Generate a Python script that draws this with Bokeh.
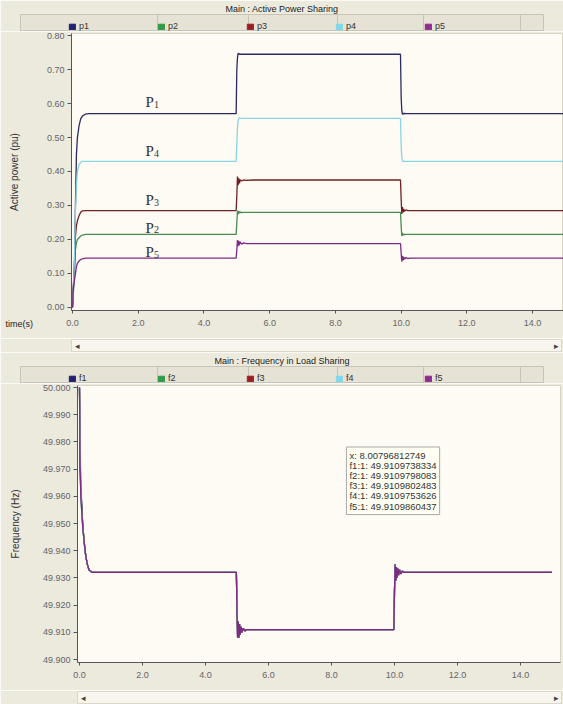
from bokeh.plotting import figure
from bokeh.models import (Range1d, FixedTicker, PrintfTickFormatter, Legend,
                          LegendItem, Title, ColumnDataSource)
from bokeh.layouts import column
from bokeh.core.properties import value
from bokeh.embed import file_html
from bokeh.resources import INLINE

# ---------------- data : active power ----------------
t_p = [0.00, 0.03, 0.06, 0.09, 0.12, 0.15, 0.20, 0.25, 0.30, 0.40, 0.50,
       4.98, 5.00, 5.02, 5.04, 5.06, 5.08, 5.10, 5.15, 5.20, 5.30, 5.50,
       9.98, 10.00, 10.02, 10.04, 10.06, 10.08, 10.10, 10.15, 10.20, 10.30, 10.50,
       15.00]
p1 = [0.00, 0.07, 0.12, 0.30, 0.45, 0.50, 0.535, 0.555, 0.563, 0.569, 0.570,
      0.570, 0.700, 0.735, 0.748, 0.747, 0.745, 0.745, 0.745, 0.745, 0.745, 0.745,
      0.745, 0.620, 0.578, 0.568, 0.572, 0.569, 0.571, 0.570, 0.570, 0.570, 0.570,
      0.570]
p2 = [0.00, 0.05, 0.10, 0.17, 0.19, 0.200, 0.205, 0.210, 0.213, 0.215, 0.215,
      0.215, 0.250, 0.285, 0.275, 0.283, 0.277, 0.281, 0.279, 0.280, 0.280, 0.280,
      0.280, 0.240, 0.210, 0.219, 0.213, 0.216, 0.214, 0.215, 0.215, 0.215, 0.215,
      0.215]
p3 = [0.00, 0.06, 0.13, 0.21, 0.24, 0.255, 0.270, 0.280, 0.284, 0.285, 0.285,
      0.285, 0.330, 0.385, 0.360, 0.380, 0.365, 0.376, 0.372, 0.375, 0.374, 0.375,
      0.375, 0.320, 0.275, 0.295, 0.280, 0.290, 0.283, 0.287, 0.285, 0.285, 0.285,
      0.285]
p4 = [0.00, 0.05, 0.15, 0.28, 0.36, 0.400, 0.420, 0.427, 0.430, 0.430, 0.430,
      0.430, 0.480, 0.530, 0.550, 0.556, 0.558, 0.557, 0.556, 0.556, 0.556, 0.556,
      0.556, 0.480, 0.440, 0.432, 0.429, 0.430, 0.430, 0.430, 0.430, 0.430, 0.430,
      0.430]
p5 = [0.00, 0.06, 0.08, 0.10, 0.12, 0.130, 0.137, 0.141, 0.143, 0.145, 0.145,
      0.145, 0.170, 0.198, 0.180, 0.196, 0.183, 0.193, 0.186, 0.190, 0.188, 0.188,
      0.188, 0.160, 0.135, 0.152, 0.139, 0.149, 0.142, 0.147, 0.144, 0.145, 0.145,
      0.145]
p_names = ["p1", "p2", "p3", "p4", "p5"]

lbl_x = [2.22, 2.22, 2.22, 2.22, 2.22]
lbl_y = [0.603, 0.235, 0.315, 0.459, 0.162]
lbl_main = ["P", "P", "P", "P", "P"]
lbl_sub = ["1", "2", "3", "4", "5"]

# ---------------- data : frequency ----------------
t_f = [0.00, 0.01, 0.02, 0.03, 0.05, 0.08, 0.10, 0.15, 0.20, 0.25, 0.30, 0.40, 0.50,
       4.98, 5.00, 5.02, 5.04, 5.06, 5.08, 5.10, 5.13, 5.16, 5.20, 5.25, 5.30, 5.40,
       9.98, 10.00, 10.02, 10.04, 10.06, 10.08, 10.10, 10.13, 10.16, 10.20, 10.25, 10.30, 10.40,
       15.00]
f1 = [50.000, 49.992, 49.975, 49.970, 49.962, 49.955, 49.950, 49.943, 49.938, 49.935, 49.933, 49.932, 49.932,
      49.932, 49.920, 49.908, 49.914, 49.908, 49.913, 49.909, 49.912, 49.910, 49.9115, 49.9105, 49.911, 49.911,
      49.911, 49.925, 49.935, 49.929, 49.934, 49.930, 49.9335, 49.931, 49.933, 49.9315, 49.9325, 49.932, 49.932,
      49.932]
f2 = [50.000, 49.990, 49.978, 49.968, 49.961, 49.955, 49.950, 49.943, 49.938, 49.935, 49.933, 49.932, 49.932,
      49.932, 49.920, 49.908, 49.914, 49.908, 49.913, 49.909, 49.912, 49.910, 49.9115, 49.9105, 49.911, 49.911,
      49.911, 49.925, 49.935, 49.929, 49.934, 49.930, 49.9335, 49.931, 49.933, 49.9315, 49.9325, 49.932, 49.932,
      49.932]
f3 = [50.000, 49.985, 49.970, 49.966, 49.960, 49.954, 49.950, 49.943, 49.938, 49.935, 49.933, 49.932, 49.932,
      49.932, 49.920, 49.908, 49.914, 49.908, 49.913, 49.909, 49.912, 49.910, 49.9115, 49.9105, 49.911, 49.911,
      49.911, 49.925, 49.935, 49.929, 49.934, 49.930, 49.9335, 49.931, 49.933, 49.9315, 49.9325, 49.932, 49.932,
      49.932]
f4 = [50.000, 49.995, 49.988, 49.975, 49.958, 49.953, 49.949, 49.943, 49.938, 49.935, 49.933, 49.932, 49.932,
      49.932, 49.922, 49.908, 49.914, 49.908, 49.913, 49.909, 49.912, 49.910, 49.9115, 49.9105, 49.911, 49.911,
      49.911, 49.925, 49.935, 49.929, 49.934, 49.930, 49.9335, 49.931, 49.933, 49.9315, 49.9325, 49.932, 49.932,
      49.932]
f5 = [50.000, 49.990, 49.972, 49.965, 49.958, 49.953, 49.949, 49.943, 49.938, 49.935, 49.933, 49.932, 49.932,
      49.932, 49.918, 49.908, 49.914, 49.908, 49.913, 49.909, 49.912, 49.910, 49.9115, 49.9105, 49.911, 49.911,
      49.911, 49.925, 49.935, 49.929, 49.934, 49.930, 49.9335, 49.931, 49.933, 49.9315, 49.9325, 49.932, 49.932,
      49.932]
f_names = ["f1", "f2", "f3", "f4", "f5"]

tip_lines = ["x: 8.00796812749",
             "f1:1: 49.9109738334",
             "f2:1: 49.9109798083",
             "f3:1: 49.9109802483",
             "f4:1: 49.9109753626",
             "f5:1: 49.9109860437"]
tip_x = 8.38
tip_y = 49.9785

x_ticks = [0, 2, 4, 6, 8, 10, 12, 14]
yp_ticks = [0.0, 0.1, 0.2, 0.3, 0.4, 0.5, 0.6, 0.7, 0.8]
yf_ticks = [49.90, 49.91, 49.92, 49.93, 49.94, 49.95, 49.96, 49.97, 49.98, 49.99, 50.00]

line_colors = ["#2a2a62", "#4a8a52", "#6e2026", "#88d3e5", "#7d2a82"]
swatch_colors = ["#1f2270", "#2f9a48", "#9a1f22", "#7fd8ea", "#8e2c8e"]
cell_edges = [157, 248, 337, 423, 520]

UI = "Liberation Sans"
BORDER = "#ECE9DD"
FRAME = "#FDFBF3"
ROW = "#E6E3D6"


def header(title, names):
    h = figure(width=563, height=31, output_backend="svg", toolbar_location=None,
               x_range=Range1d(20, 543), y_range=Range1d(0, 1),
               min_border_left=20, min_border_right=20, min_border_top=0,
               min_border_bottom=0, frame_align=False)
    h.axis.visible = False
    h.grid.visible = False
    h.border_fill_color = BORDER
    h.background_fill_color = ROW
    h.outline_line_color = "#C9C5B6"
    h.title = Title(text=title, align="center", text_font=UI, text_font_size="9px",
                    text_font_style="normal", text_color="#222222", standoff=2)
    h.segment(x0=cell_edges, x1=cell_edges, y0=[0] * len(cell_edges),
              y1=[1] * len(cell_edges), line_color="#C9C5B6", line_width=1)
    items = []
    for nm, c in zip(names, swatch_colors):
        # legend swatch only: its single box lies outside the visible range
        sw = h.quad(left=[-20], right=[-10], top=[-1], bottom=[-2],
                    fill_color=c, line_color=c)
        items.append(LegendItem(label=nm, renderers=[sw]))
    lg = Legend(items=items, orientation="horizontal", location=(48, 0),
                glyph_width=8, glyph_height=7, label_standoff=3, label_width=78,
                label_height=10, spacing=0, padding=2, margin=0,
                label_text_font=UI, label_text_font_size="9px",
                label_text_color="#333333", background_fill_alpha=0,
                border_line_color=None)
    h.add_layout(lg, "center")
    return h


def footer(left):
    f = figure(width=563, height=14, output_backend="svg", toolbar_location=None,
               x_range=Range1d(0, 1), y_range=Range1d(0, 1),
               min_border_left=left, min_border_right=2, min_border_top=1,
               min_border_bottom=1, frame_align=False)
    f.axis.visible = False
    f.grid.visible = False
    f.border_fill_color = BORDER
    f.background_fill_color = "#F7F5EE"
    f.outline_line_color = "#DAD6C8"
    f.text(x=[0, 1], y=[0.5, 0.5], text=["◂", "▸"], text_align=["left", "right"],
           text_baseline="middle", text_font=value(UI), text_font_size="9px",
           text_color="#444444", x_offset=[3, -3])
    return f


def main(xr, yr, left, right, yfmt, yticks, ylabel, ls, ts, series):
    p = figure(width=563, height=307, output_backend="svg", toolbar_location=None,
               x_range=xr, y_range=yr, min_border_left=left, min_border_right=right,
               min_border_top=2, min_border_bottom=28, frame_align=False)
    p.border_fill_color = BORDER
    p.background_fill_color = FRAME
    p.outline_line_color = "#D8D4C6"
    p.grid.visible = False
    p.xaxis.ticker = FixedTicker(ticks=x_ticks)
    p.xaxis.formatter = PrintfTickFormatter(format="%.1f")
    p.yaxis.ticker = FixedTicker(ticks=yticks)
    p.yaxis.formatter = PrintfTickFormatter(format=yfmt)
    for ax in (p.xaxis, p.yaxis):
        ax.major_label_text_font = UI
        ax.major_label_text_font_size = "9px"
        ax.major_label_text_color = "#666666"
        ax.axis_line_color = "#555555"
        ax.major_tick_line_color = "#555555"
        ax.minor_tick_line_color = None
        ax.major_tick_out = 4
        ax.major_tick_in = 0
        ax.major_label_standoff = 3
    p.xaxis.major_tick_out = 3
    p.xaxis.major_label_standoff = 6
    p.yaxis.axis_label = ylabel
    p.yaxis.axis_label_text_font = UI
    p.yaxis.axis_label_text_font_size = "10px"
    p.yaxis.axis_label_text_font_style = "normal"
    p.yaxis.axis_label_text_color = "#333333"
    p.yaxis.axis_label_standoff = ls
    for ys, c in zip(series, line_colors):
        p.line(ts, ys, line_color=c, line_width=1.3)
    return p


h1 = header("Main : Active Power Sharing", p_names)
top = main(Range1d(-0.03, 14.94), Range1d(-0.009, 0.806), 71, 0, "%.2f", yp_ticks,
           "Active power (pu)", 24, t_p, [p1, p2, p3, p4, p5])
src_lbl = ColumnDataSource(dict(x=lbl_x, y=lbl_y, m=lbl_main, s=lbl_sub))
top.text(x="x", y="y", text="m", source=src_lbl, text_font=value("Liberation Serif"),
         text_font_size="15px", text_color="#333333", text_baseline="middle")
top.text(x="x", y="y", text="s", source=src_lbl, text_font=value("Liberation Serif"),
         text_font_size="10px", text_color="#333333", text_baseline="middle",
         x_offset=8.5, y_offset=2)
top.add_layout(Title(text="time(s)", align="left", offset=-66, standoff=-19,
                     vertical_align="top",
                     text_font=UI, text_font_size="9px", text_font_style="normal",
                     text_color="#222222"), "below")
f1b = footer(71)

h2 = header("Main : Frequency in Load Sharing", f_names)
bot = main(Range1d(-0.063, 15.27), Range1d(49.8989, 50.00074), 77, 3, "%.3f", yf_ticks,
           "Frequency (Hz)", 19, t_f, [f1, f2, f3, f4, f5])
bot.text(x=[tip_x], y=[tip_y], text=["\n".join(tip_lines)], text_font=value(UI),
         text_font_size="9.5px", text_color="#333333", text_line_height=0.92,
         text_baseline="top", text_align="left", x_offset=3, y_offset=1,
         background_fill_color="#FFFFF4", border_line_color="#AAAAAA", padding=3)
f2b = footer(77)

layout = column(h1, top, f1b, h2, bot, f2b, spacing=0)
open("out.html", "w").write(file_html(layout, INLINE))
